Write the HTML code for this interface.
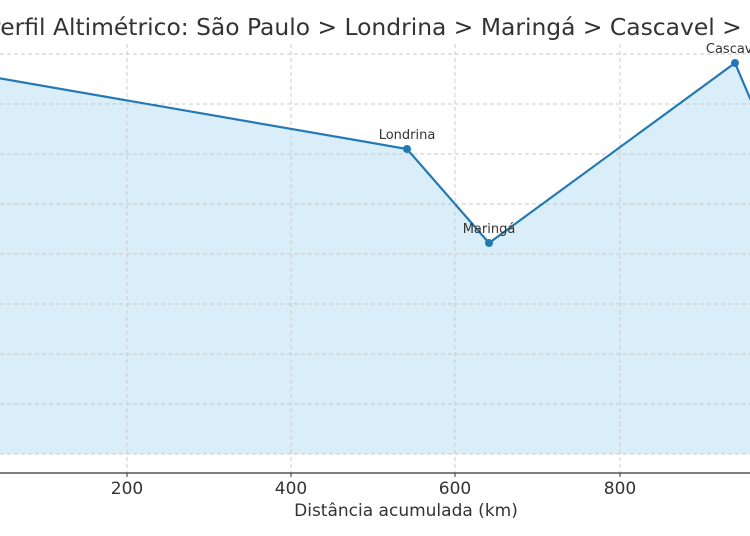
<!DOCTYPE html>
<html><head><meta charset="utf-8"><style>body{margin:0;background:#fff}svg{display:block}</style></head>
<body>
<svg width="750" height="536" viewBox="0 0 750 536" xmlns="http://www.w3.org/2000/svg" font-family="'DejaVu Sans','Liberation Sans',sans-serif">
<rect width="750" height="536" fill="#fff"/>
<polygon points="-37,72 407,149 489,243 735,63 752,103 752,454 -37,454" fill="#d9eef8"/>
<g stroke="#c8c8c8" stroke-width="0.9" stroke-dasharray="4,3">
<line x1="0" x2="750" y1="54" y2="54"/><line x1="0" x2="750" y1="104" y2="104"/>
<line x1="0" x2="750" y1="154" y2="154"/><line x1="0" x2="750" y1="204" y2="204"/>
<line x1="0" x2="750" y1="254" y2="254"/><line x1="0" x2="750" y1="304" y2="304"/>
<line x1="0" x2="750" y1="354" y2="354"/><line x1="0" x2="750" y1="404" y2="404"/>
<line x1="0" x2="750" y1="454" y2="454"/>
<line x1="127" x2="127" y1="44" y2="473"/><line x1="291" x2="291" y1="44" y2="473"/>
<line x1="455" x2="455" y1="44" y2="473"/><line x1="620" x2="620" y1="44" y2="473"/>
</g>
<line x1="0" x2="750" y1="473" y2="473" stroke="#333" stroke-width="1.3"/>
<g stroke="#333" stroke-width="1"><line x1="127" x2="127" y1="473" y2="477"/><line x1="291" x2="291" y1="473" y2="477"/><line x1="455" x2="455" y1="473" y2="477"/><line x1="620" x2="620" y1="473" y2="477"/></g>
<polyline points="-37,72 407,149 489,243 735,63 752,103" fill="none" stroke="#2479b5" stroke-width="2.2"/>
<g fill="#2479b5"><circle cx="407" cy="149" r="4"/><circle cx="489" cy="243" r="4"/><circle cx="735" cy="63" r="4"/></g>
<g fill="#333" font-size="13" text-anchor="middle">
<text x="407" y="139">Londrina</text><text x="489" y="233">Maringá</text><text x="735" y="53">Cascavel</text></g>
<g fill="#333" font-size="17" text-anchor="middle">
<text x="127" y="494">200</text><text x="291" y="494">400</text><text x="455" y="494">600</text><text x="620" y="494">800</text>
<text x="406" y="516">Distância acumulada (km)</text></g>
<text x="-13" y="35" font-size="23.4" fill="#333">Perfil Altimétrico: São Paulo &gt; Londrina &gt; Maringá &gt; Cascavel &gt; Foz</text>
</svg>
</body></html>
